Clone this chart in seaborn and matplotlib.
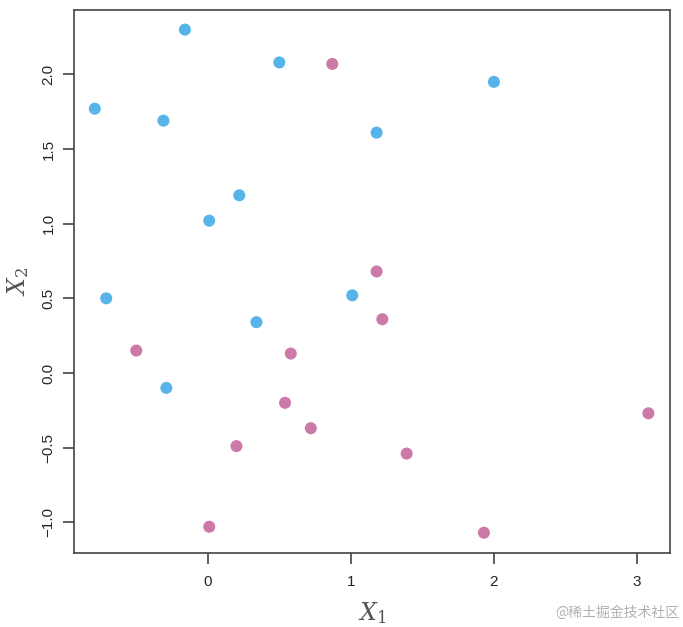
import seaborn as sns
import matplotlib.pyplot as plt
import pandas as pd

sns.set_style("white")
plt.rcParams['font.family'] = ['Liberation Sans', 'Noto Sans CJK SC']
plt.rcParams['mathtext.fontset'] = 'dejavuserif'

blue_x = [-0.79, -0.16, 0.50, -0.31, 2.00, 1.18, 0.22, 0.01, -0.71, 1.01, 0.34, -0.29]
blue_y = [1.77, 2.30, 2.08, 1.69, 1.95, 1.61, 1.19, 1.02, 0.50, 0.52, 0.34, -0.10]
purple_x = [0.87, 1.18, 1.22, -0.50, 0.58, 0.54, 0.72, 0.20, 1.39, 3.08, 0.01, 1.93]
purple_y = [2.07, 0.68, 0.36, 0.15, 0.13, -0.20, -0.37, -0.49, -0.54, -0.27, -1.03, -1.07]

df = pd.DataFrame({
    "X1": blue_x + purple_x,
    "X2": blue_y + purple_y,
    "cls": ["blue"] * len(blue_x) + ["purple"] * len(purple_x),
})

fig = plt.figure(figsize=(6.83, 6.27), dpi=100)
ax = fig.add_axes([0.108, 0.118, 0.873, 0.866])

sns.scatterplot(data=df, x="X1", y="X2", hue="cls",
                palette={"blue": "#56B4E9", "purple": "#CC79A7"},
                s=75, linewidth=0, legend=False, ax=ax)

ax.set_xlim(-0.937, 3.231)
ax.set_ylim(-1.206, 2.431)
ax.set_xticks([0, 1, 2, 3])
ax.set_xticklabels(["0", "1", "2", "3"])
ax.set_yticks([-1.0, -0.5, 0.0, 0.5, 1.0, 1.5, 2.0])
ax.set_yticklabels(["\u22121.0", "\u22120.5", "0.0", "0.5", "1.0", "1.5", "2.0"],
                   rotation=90, va="center")
ax.tick_params(axis="both", direction="out", length=8, width=1.2,
               color="#444444", labelsize=11, pad=8, left=True, bottom=True)
ax.tick_params(axis="y", pad=5)
for sp in ax.spines.values():
    sp.set_color("#444444")
    sp.set_linewidth(1.2)

ax.set_xlabel("$X_1$", fontsize=17, color="#555555", labelpad=8)
ax.set_ylabel("$X_2$", fontsize=17, color="#555555", labelpad=8)

fig.text(0.995, 0.012, "@稀土掘金技术社区", ha="right", va="bottom",
         fontsize=10, color="#b0b0b0", family=["Noto Sans CJK SC", "DejaVu Sans"])

plt.savefig("out.png", dpi=100)
plt.close()
